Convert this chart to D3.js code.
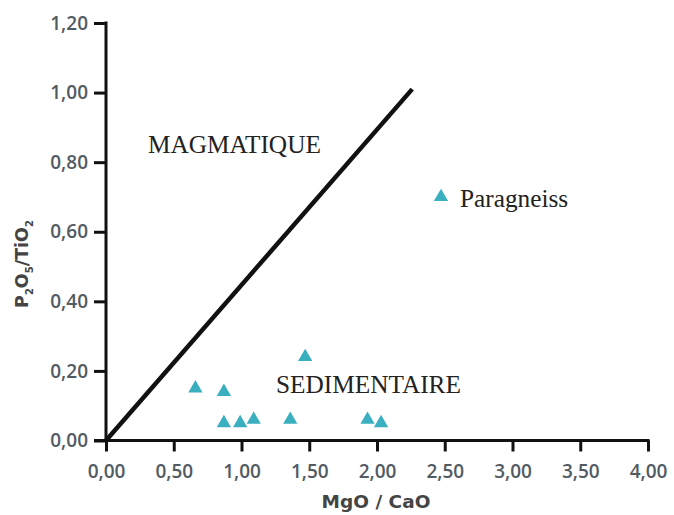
<!DOCTYPE html>
<html lang="fr">
<head>
<meta charset="utf-8">
<title>P2O5/TiO2 vs MgO/CaO</title>
<script src="https://d3js.org/d3.v7.min.js"></script>
<style>
  body { margin: 0; background: #fff; }
  .tick text { font-family: "Open Sans", sans-serif; font-weight: 600; font-size: 19px; fill: #525b63; }
  .axis path, .axis line { stroke: #111; stroke-width: 3px; }
  .zone { font-family: "Liberation Serif", "Times New Roman", serif; font-size: 25.3px; fill: #222; }
  .title { font-family: "DejaVu Sans", sans-serif; font-weight: bold; fill: #444; }
</style>
</head>
<body>
<svg width="674" height="515"></svg>
<script>
// données
var mgoCao   = [0.66, 0.87, 1.47, 0.87, 0.99, 1.09, 1.36, 1.93, 2.03];
var p2o5TiO2 = [0.15, 0.14, 0.24, 0.05, 0.05, 0.06, 0.06, 0.06, 0.05];
var xTicks = [0, 0.5, 1, 1.5, 2, 2.5, 3, 3.5, 4];
var yTicks = [0, 0.2, 0.4, 0.6, 0.8, 1.0, 1.2];
// limite magmatique / sédimentaire
var limiteX = [0, 2.26];
var limiteY = [0, 1.01];

var svg = d3.select("svg");
var fmt = function(d) { return d3.format(".2f")(d).replace(".", ","); };

var x = d3.scaleLinear().domain([0, 4]).range([106, 648]);
var y = d3.scaleLinear().domain([0, 1.2]).range([440.5, 23]);

// axes
svg.append("g")
    .attr("class", "axis")
    .attr("transform", "translate(0," + y(0) + ")")
    .call(d3.axisBottom(x).tickValues(xTicks).tickFormat(fmt).tickSize(11).tickSizeOuter(0).tickPadding(13))
    .call(function(g) { g.select(".domain").attr("d", "M" + (x(0) - 12) + ",0H" + (x(4) + 1.5)); });

svg.append("g")
    .attr("class", "axis")
    .attr("transform", "translate(" + x(0) + ",0)")
    .call(d3.axisLeft(y).tickValues(yTicks).tickFormat(fmt).tickSize(12).tickSizeOuter(0).tickPadding(6))
    .call(function(g) { g.select(".domain").attr("d", "M0," + (y(1.2) - 1.5) + "V" + (y(0) + 1.5)); });

// ligne de séparation
svg.append("line")
    .attr("x1", x(limiteX[0])).attr("y1", y(limiteY[0]))
    .attr("x2", x(limiteX[1])).attr("y2", y(limiteY[1]))
    .attr("stroke", "#111")
    .attr("stroke-width", 4.5);

// points
var tri = d3.symbol().type(d3.symbolTriangle).size(88);
svg.append("g").selectAll("path")
    .data(mgoCao)
    .enter().append("path")
    .attr("d", tri)
    .attr("fill", "#3aafbf")
    .attr("transform", function(d, i) { return "translate(" + x(d) + "," + y(p2o5TiO2[i]) + ")"; });

// zones
svg.append("text").attr("class", "zone").attr("x", x(0.31)).attr("y", y(0.827)).text("MAGMATIQUE");
svg.append("text").attr("class", "zone").attr("x", x(1.255)).attr("y", y(0.137)).text("SEDIMENTAIRE");

// légende
svg.append("path").attr("d", tri).attr("fill", "#3aafbf").attr("transform", "translate(441,197)");
svg.append("text").attr("class", "zone").attr("x", 460).attr("y", 207).text("Paragneiss");

// titres des axes
svg.append("text").attr("class", "title")
    .attr("x", x(2) - 1).attr("y", 508)
    .attr("text-anchor", "middle")
    .style("font-size", "18.5px")
    .text("MgO / CaO");

var yt = svg.append("text").attr("class", "title")
    .attr("transform", "translate(28,264) rotate(-90)")
    .attr("text-anchor", "middle")
    .style("font-size", "17.5px");
yt.append("tspan").text("P");
yt.append("tspan").attr("dy", 5).style("font-size", "10px").text("2");
yt.append("tspan").attr("dy", -5).text("O");
yt.append("tspan").attr("dy", 5).style("font-size", "10px").text("5");
yt.append("tspan").attr("dy", -5).text("/TiO");
yt.append("tspan").attr("dy", 5).style("font-size", "10px").text("2");
</script>
</body>
</html>
